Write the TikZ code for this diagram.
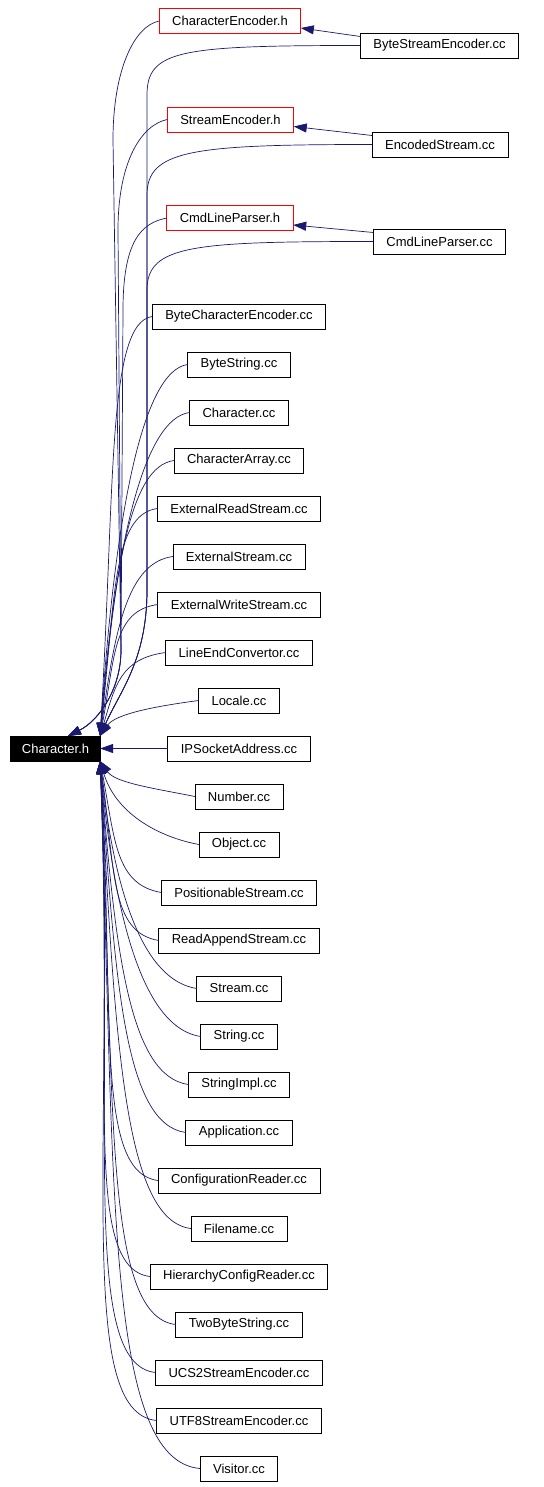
\documentclass[tikz,border=0pt]{standalone}
\usepackage{fontspec}
\setmainfont{Liberation Sans}
\usetikzlibrary{arrows.meta,positioning,calc}
\definecolor{edgeblue}{RGB}{25,25,112}
\definecolor{hdrred}{RGB}{255,0,0}

\begin{document}
\begin{tikzpicture}[
  x=1pt, y=-1pt,
  every node/.style={font=\fontsize{13}{15}\selectfont},
  file/.style={draw=black, fill=white, line width=0.8pt, minimum height=25pt, inner xsep=13pt, inner ysep=0pt, outer sep=0pt},
  hdr/.style={file, draw=hdrred},
  root/.style={file, fill=black, text=white, inner xsep=11pt},
  dep/.style={draw=edgeblue, line width=0.7pt, -{Triangle[length=13pt,width=9pt]}},
  node distance=23pt
]
\useasboundingbox (0,0) rectangle (543,1487);

% included header
\node[root] (ch) at (55.5,748.5) {Character.h};

% headers that include it, and their sources
\node[hdr] (ceh) at (230,21) {CharacterEncoder.h};
\node[hdr] (seh) at (230.5,119.5) {StreamEncoder.h};
\node[hdr] (clph) at (230,218) {CmdLineParser.h};
\node[file] (bsec) at (439.5,45.5) {ByteStreamEncoder.cc};
\node[file] (esc) at (440,144.5) {EncodedStream.cc};
\node[file] (clpc) at (439.5,241.5) {CmdLineParser.cc};

% sources
\node[file] (bce) at (239,316.5) {ByteCharacterEncoder.cc};
\node[file, below=of bce] (bstr) {ByteString.cc};
\node[file, below=of bstr] (chcc) {Character.cc};
\node[file, below=of chcc] (charr) {CharacterArray.cc};
\node[file, below=of charr] (ers) {ExternalReadStream.cc};
\node[file, below=of ers] (exs) {ExternalStream.cc};
\node[file, below=of exs] (ews) {ExternalWriteStream.cc};
\node[file, below=of ews] (lec) {LineEndConvertor.cc};
\node[file, below=of lec] (loc) {Locale.cc};
\node[file, below=of loc] (ipsa) {IPSocketAddress.cc};
\node[file, below=of ipsa] (num) {Number.cc};
\node[file, below=of num] (obj) {Object.cc};
\node[file, below=of obj] (pos) {PositionableStream.cc};
\node[file, below=of pos] (ras) {ReadAppendStream.cc};
\node[file, below=of ras] (strm) {Stream.cc};
\node[file, below=of strm] (str) {String.cc};
\node[file, below=of str] (simpl) {StringImpl.cc};
\node[file, below=of simpl] (app) {Application.cc};
\node[file, below=of app] (cfg) {ConfigurationReader.cc};
\node[file, below=of cfg] (fname) {Filename.cc};
\node[file, below=of fname] (hcr) {HierarchyConfigReader.cc};
\node[file, below=of hcr] (tbs) {TwoByteString.cc};
\node[file, below=of tbs] (ucs) {UCS2StreamEncoder.cc};
\node[file, below=of ucs] (utf) {UTF8StreamEncoder.cc};
\node[file, below=of utf] (vis) {Visitor.cc};

% source -> header
\foreach \a/\b in {bsec/ceh, esc/seh, clpc/clph}
  \draw[dep] ([yshift=9pt]\a.west) -- ([yshift=-7pt]\b.east);

% headers -> Character.h
\foreach \a/\x/\y in {ceh/113/140, seh/118/230, clph/123/310}
  \draw[dep] (\a.west) .. controls +(-25,5) and +(0,-70) .. (\x,\y) -- (121,650)
    .. controls +(0,40) and +(30,-15) .. (ch.45);

% far sources -> Character.h
\foreach \a/\y in {bsec/95, esc/195, clpc/290}
  \draw[dep] (\a.west) .. controls +(-180,0) and +(0,-45) .. (147,\y) -- (147,590)
    .. controls +(0,70) and +(20,-45) .. (ch.north east);

\foreach \a/\g in {bce/252.3, bstr/223.5, chcc/194.7, charr/165.9, ers/137.1, exs/108.3, ews/79.5, lec/50.7, loc/21.9}
  \draw[dep] (\a.west) .. controls +(-45,6) and +(15,-\g) .. (ch.north east);

\draw[dep] (ipsa.west) -- (ch.east);

\foreach \a/\c/\g in {num/40/21.9, obj/43/50.7, pos/46/79.5, ras/49/108.3, strm/52/137.1, str/55/165.9, simpl/58/194.7, app/61/223.5, cfg/64/252.3, fname/67/281.1, hcr/70/309.9, tbs/73/338.7, ucs/76/367.5, utf/82/396.3, vis/95/425.1}
  \draw[dep] (\a.west) .. controls +(-\c,-8) and +(15,\g) .. (ch.south east);
\end{tikzpicture}
\end{document}
